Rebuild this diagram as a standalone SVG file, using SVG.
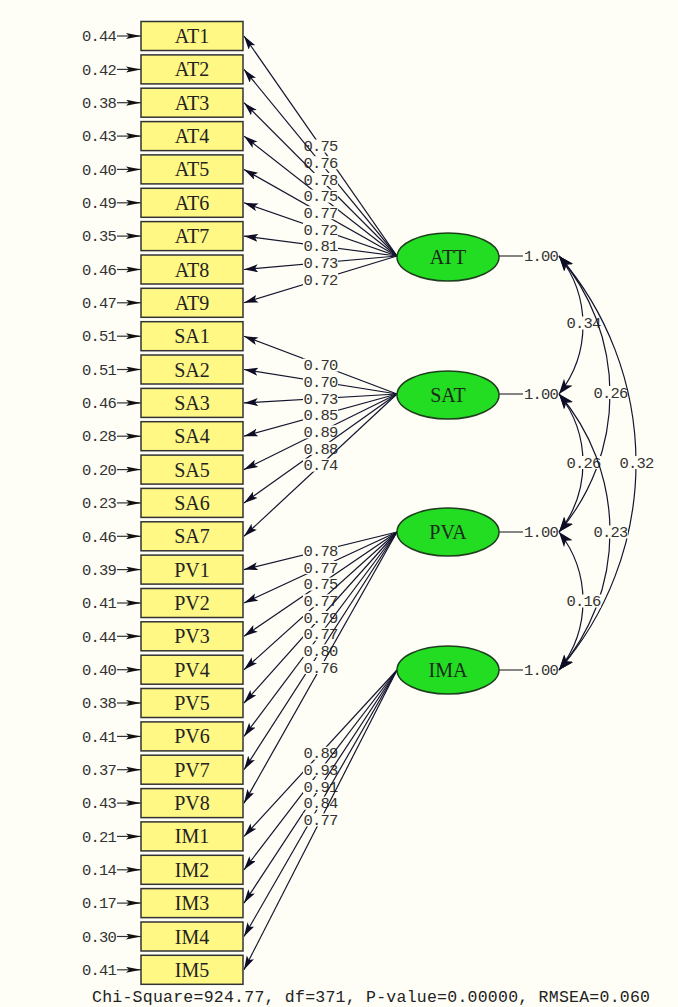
<svg xmlns="http://www.w3.org/2000/svg" width="678" height="1007" viewBox="0 0 678 1007">
<style>
.bg{fill:#FEFEF6}
.box{fill:#FFF884;stroke:#333;stroke-width:1.5}
.bt{font-family:"Liberation Serif",serif;font-size:20px;fill:#222;text-anchor:middle}
.lat{fill:#22DD22;stroke:#1f3f1f;stroke-width:1.5}
.lt{font-family:"Liberation Serif",serif;font-size:20px;fill:#1a2a1a;text-anchor:middle}
.num{font-family:"Liberation Mono",monospace;font-size:15.5px;letter-spacing:-0.8px;fill:#333}
.mid{text-anchor:middle}
.end{text-anchor:end}
.ln{stroke:#14142e;stroke-width:1.2;fill:none}
.el{stroke:#333;stroke-width:1.2;fill:none}
.cv{stroke:#14142e;stroke-width:1.2;fill:none}
.lb{fill:#FEFEF6}
</style>
<defs>
<marker id="ah" markerUnits="userSpaceOnUse" markerWidth="16" markerHeight="10" refX="14" refY="4" orient="auto"><path d="M0,0 L14,4 L0,8 L3,4 z" fill="#0d0d26"/></marker>
<marker id="eh" markerUnits="userSpaceOnUse" markerWidth="16" markerHeight="8" refX="15" refY="3" orient="auto"><path d="M0,0 L15,3 L0,6 L3,3 z" fill="#111"/></marker>
<marker id="ch" markerUnits="userSpaceOnUse" markerWidth="18" markerHeight="12" refX="15" refY="5.5" orient="auto-start-reverse"><path d="M0,0 L15,5.5 L0,11 L4,5.5 z" fill="#0d0d26"/></marker>
</defs>
<rect class="bg" x="0" y="0" width="678" height="1007"/>

<g id="connectors">
<g id="errors">
<line class="el" x1="117" y1="36" x2="141" y2="36" marker-end="url(#eh)"/><text class="num end" x="116" y="41.2">0.44</text>
<line class="el" x1="117" y1="69.4" x2="141" y2="69.4" marker-end="url(#eh)"/><text class="num end" x="116" y="74.6">0.42</text>
<line class="el" x1="117" y1="102.7" x2="141" y2="102.7" marker-end="url(#eh)"/><text class="num end" x="116" y="107.9">0.38</text>
<line class="el" x1="117" y1="136.1" x2="141" y2="136.1" marker-end="url(#eh)"/><text class="num end" x="116" y="141.3">0.43</text>
<line class="el" x1="117" y1="169.4" x2="141" y2="169.4" marker-end="url(#eh)"/><text class="num end" x="116" y="174.6">0.40</text>
<line class="el" x1="117" y1="202.8" x2="141" y2="202.8" marker-end="url(#eh)"/><text class="num end" x="116" y="208">0.49</text>
<line class="el" x1="117" y1="236.1" x2="141" y2="236.1" marker-end="url(#eh)"/><text class="num end" x="116" y="241.3">0.35</text>
<line class="el" x1="117" y1="269.5" x2="141" y2="269.5" marker-end="url(#eh)"/><text class="num end" x="116" y="274.7">0.46</text>
<line class="el" x1="117" y1="302.8" x2="141" y2="302.8" marker-end="url(#eh)"/><text class="num end" x="116" y="308">0.47</text>
<line class="el" x1="117" y1="336.2" x2="141" y2="336.2" marker-end="url(#eh)"/><text class="num end" x="116" y="341.4">0.51</text>
<line class="el" x1="117" y1="369.5" x2="141" y2="369.5" marker-end="url(#eh)"/><text class="num end" x="116" y="374.7">0.51</text>
<line class="el" x1="117" y1="402.9" x2="141" y2="402.9" marker-end="url(#eh)"/><text class="num end" x="116" y="408.1">0.46</text>
<line class="el" x1="117" y1="436.2" x2="141" y2="436.2" marker-end="url(#eh)"/><text class="num end" x="116" y="441.4">0.28</text>
<line class="el" x1="117" y1="469.6" x2="141" y2="469.6" marker-end="url(#eh)"/><text class="num end" x="116" y="474.8">0.20</text>
<line class="el" x1="117" y1="502.9" x2="141" y2="502.9" marker-end="url(#eh)"/><text class="num end" x="116" y="508.1">0.23</text>
<line class="el" x1="117" y1="536.3" x2="141" y2="536.3" marker-end="url(#eh)"/><text class="num end" x="116" y="541.5">0.46</text>
<line class="el" x1="117" y1="569.6" x2="141" y2="569.6" marker-end="url(#eh)"/><text class="num end" x="116" y="574.8">0.39</text>
<line class="el" x1="117" y1="603" x2="141" y2="603" marker-end="url(#eh)"/><text class="num end" x="116" y="608.2">0.41</text>
<line class="el" x1="117" y1="636.3" x2="141" y2="636.3" marker-end="url(#eh)"/><text class="num end" x="116" y="641.5">0.44</text>
<line class="el" x1="117" y1="669.7" x2="141" y2="669.7" marker-end="url(#eh)"/><text class="num end" x="116" y="674.9">0.40</text>
<line class="el" x1="117" y1="703" x2="141" y2="703" marker-end="url(#eh)"/><text class="num end" x="116" y="708.2">0.38</text>
<line class="el" x1="117" y1="736.4" x2="141" y2="736.4" marker-end="url(#eh)"/><text class="num end" x="116" y="741.6">0.41</text>
<line class="el" x1="117" y1="769.7" x2="141" y2="769.7" marker-end="url(#eh)"/><text class="num end" x="116" y="774.9">0.37</text>
<line class="el" x1="117" y1="803.1" x2="141" y2="803.1" marker-end="url(#eh)"/><text class="num end" x="116" y="808.3">0.43</text>
<line class="el" x1="117" y1="836.4" x2="141" y2="836.4" marker-end="url(#eh)"/><text class="num end" x="116" y="841.6">0.21</text>
<line class="el" x1="117" y1="869.8" x2="141" y2="869.8" marker-end="url(#eh)"/><text class="num end" x="116" y="875">0.14</text>
<line class="el" x1="117" y1="903.1" x2="141" y2="903.1" marker-end="url(#eh)"/><text class="num end" x="116" y="908.3">0.17</text>
<line class="el" x1="117" y1="936.5" x2="141" y2="936.5" marker-end="url(#eh)"/><text class="num end" x="116" y="941.7">0.30</text>
<line class="el" x1="117" y1="969.8" x2="141" y2="969.8" marker-end="url(#eh)"/><text class="num end" x="116" y="975">0.41</text>
</g>
<g id="att-loadings">
<line class="ln" x1="397" y1="256" x2="244" y2="36" marker-end="url(#ah)"/><rect class="lb" x="303" y="139.5" width="35" height="13"/><text class="num mid" x="320.5" y="151.2">0.75</text>
<line class="ln" x1="397" y1="256" x2="244" y2="69.4" marker-end="url(#ah)"/><rect class="lb" x="303" y="156.2" width="35" height="13"/><text class="num mid" x="320.5" y="167.9">0.76</text>
<line class="ln" x1="397" y1="256" x2="244" y2="102.7" marker-end="url(#ah)"/><rect class="lb" x="303" y="172.9" width="35" height="13"/><text class="num mid" x="320.5" y="184.6">0.78</text>
<line class="ln" x1="397" y1="256" x2="244" y2="136.1" marker-end="url(#ah)"/><rect class="lb" x="303" y="189.6" width="35" height="13"/><text class="num mid" x="320.5" y="201.3">0.75</text>
<line class="ln" x1="397" y1="256" x2="244" y2="169.4" marker-end="url(#ah)"/><rect class="lb" x="303" y="206.2" width="35" height="13"/><text class="num mid" x="320.5" y="217.9">0.77</text>
<line class="ln" x1="397" y1="256" x2="244" y2="202.8" marker-end="url(#ah)"/><rect class="lb" x="303" y="222.9" width="35" height="13"/><text class="num mid" x="320.5" y="234.6">0.72</text>
<line class="ln" x1="397" y1="256" x2="244" y2="236.1" marker-end="url(#ah)"/><rect class="lb" x="303" y="239.6" width="35" height="13"/><text class="num mid" x="320.5" y="251.3">0.81</text>
<line class="ln" x1="397" y1="256" x2="244" y2="269.5" marker-end="url(#ah)"/><rect class="lb" x="303" y="256.2" width="35" height="13"/><text class="num mid" x="320.5" y="267.9">0.73</text>
<line class="ln" x1="397" y1="256" x2="244" y2="302.8" marker-end="url(#ah)"/><rect class="lb" x="303" y="272.9" width="35" height="13"/><text class="num mid" x="320.5" y="284.6">0.72</text>
</g>
<g id="sat-loadings">
<line class="ln" x1="397" y1="394" x2="244" y2="336.2" marker-end="url(#ah)"/><rect class="lb" x="303" y="358.6" width="35" height="13"/><text class="num mid" x="320.5" y="370.3">0.70</text>
<line class="ln" x1="397" y1="394" x2="244" y2="369.5" marker-end="url(#ah)"/><rect class="lb" x="303" y="375.2" width="35" height="13"/><text class="num mid" x="320.5" y="386.9">0.70</text>
<line class="ln" x1="397" y1="394" x2="244" y2="402.9" marker-end="url(#ah)"/><rect class="lb" x="303" y="391.9" width="35" height="13"/><text class="num mid" x="320.5" y="403.6">0.73</text>
<line class="ln" x1="397" y1="394" x2="244" y2="436.2" marker-end="url(#ah)"/><rect class="lb" x="303" y="408.6" width="35" height="13"/><text class="num mid" x="320.5" y="420.3">0.85</text>
<line class="ln" x1="397" y1="394" x2="244" y2="469.6" marker-end="url(#ah)"/><rect class="lb" x="303" y="425.3" width="35" height="13"/><text class="num mid" x="320.5" y="437">0.89</text>
<line class="ln" x1="397" y1="394" x2="244" y2="502.9" marker-end="url(#ah)"/><rect class="lb" x="303" y="441.9" width="35" height="13"/><text class="num mid" x="320.5" y="453.6">0.88</text>
<line class="ln" x1="397" y1="394" x2="244" y2="536.3" marker-end="url(#ah)"/><rect class="lb" x="303" y="458.6" width="35" height="13"/><text class="num mid" x="320.5" y="470.3">0.74</text>
</g>
<g id="pva-loadings">
<line class="ln" x1="397" y1="532" x2="244" y2="569.6" marker-end="url(#ah)"/><rect class="lb" x="303" y="544.3" width="35" height="13"/><text class="num mid" x="320.5" y="556">0.78</text>
<line class="ln" x1="397" y1="532" x2="244" y2="603" marker-end="url(#ah)"/><rect class="lb" x="303" y="561" width="35" height="13"/><text class="num mid" x="320.5" y="572.7">0.77</text>
<line class="ln" x1="397" y1="532" x2="244" y2="636.3" marker-end="url(#ah)"/><rect class="lb" x="303" y="577.6" width="35" height="13"/><text class="num mid" x="320.5" y="589.3">0.75</text>
<line class="ln" x1="397" y1="532" x2="244" y2="669.7" marker-end="url(#ah)"/><rect class="lb" x="303" y="594.3" width="35" height="13"/><text class="num mid" x="320.5" y="606">0.77</text>
<line class="ln" x1="397" y1="532" x2="244" y2="703" marker-end="url(#ah)"/><rect class="lb" x="303" y="611" width="35" height="13"/><text class="num mid" x="320.5" y="622.7">0.79</text>
<line class="ln" x1="397" y1="532" x2="244" y2="736.4" marker-end="url(#ah)"/><rect class="lb" x="303" y="627.7" width="35" height="13"/><text class="num mid" x="320.5" y="639.4">0.77</text>
<line class="ln" x1="397" y1="532" x2="244" y2="769.7" marker-end="url(#ah)"/><rect class="lb" x="303" y="644.3" width="35" height="13"/><text class="num mid" x="320.5" y="656">0.80</text>
<line class="ln" x1="397" y1="532" x2="244" y2="803.1" marker-end="url(#ah)"/><rect class="lb" x="303" y="661" width="35" height="13"/><text class="num mid" x="320.5" y="672.7">0.76</text>
</g>
<g id="ima-loadings">
<line class="ln" x1="397" y1="670" x2="244" y2="836.4" marker-end="url(#ah)"/><rect class="lb" x="303" y="746.7" width="35" height="13"/><text class="num mid" x="320.5" y="758.4">0.89</text>
<line class="ln" x1="397" y1="670" x2="244" y2="869.8" marker-end="url(#ah)"/><rect class="lb" x="303" y="763.4" width="35" height="13"/><text class="num mid" x="320.5" y="775.1">0.93</text>
<line class="ln" x1="397" y1="670" x2="244" y2="903.1" marker-end="url(#ah)"/><rect class="lb" x="303" y="780" width="35" height="13"/><text class="num mid" x="320.5" y="791.7">0.91</text>
<line class="ln" x1="397" y1="670" x2="244" y2="936.5" marker-end="url(#ah)"/><rect class="lb" x="303" y="796.7" width="35" height="13"/><text class="num mid" x="320.5" y="808.4">0.84</text>
<line class="ln" x1="397" y1="670" x2="244" y2="969.8" marker-end="url(#ah)"/><rect class="lb" x="303" y="813.4" width="35" height="13"/><text class="num mid" x="320.5" y="825.1">0.77</text>
</g>
<g id="variances">
<line class="el" x1="499" y1="256" x2="523" y2="256"/><text class="num" x="524" y="261.2">1.00</text>
<line class="el" x1="499" y1="394" x2="523" y2="394"/><text class="num" x="524" y="399.2">1.00</text>
<line class="el" x1="499" y1="532" x2="523" y2="532"/><text class="num" x="524" y="537.2">1.00</text>
<line class="el" x1="499" y1="670" x2="523" y2="670"/><text class="num" x="524" y="675.2">1.00</text>
</g>
<g id="covariances">
<path class="cv" d="M559,256 A111.2,111.2 0 0 1 559,394" marker-start="url(#ch)" marker-end="url(#ch)"/><rect class="lb" x="566" y="316.5" width="35" height="13"/><text class="num mid" x="583.5" y="328.2">0.34</text>
<path class="cv" d="M559,256 A212.2,212.2 0 0 1 559,532" marker-start="url(#ch)" marker-end="url(#ch)"/><rect class="lb" x="593" y="386" width="35" height="13"/><text class="num mid" x="610.5" y="397.7">0.26</text>
<path class="cv" d="M559,256 A316.7,316.7 0 0 1 559,670" marker-start="url(#ch)" marker-end="url(#ch)"/><rect class="lb" x="619" y="456" width="35" height="13"/><text class="num mid" x="636.5" y="467.7">0.32</text>
<path class="cv" d="M559,394 A111.2,111.2 0 0 1 559,532" marker-start="url(#ch)" marker-end="url(#ch)"/><rect class="lb" x="566" y="456" width="35" height="13"/><text class="num mid" x="583.5" y="467.7">0.26</text>
<path class="cv" d="M559,394 A212.2,212.2 0 0 1 559,670" marker-start="url(#ch)" marker-end="url(#ch)"/><rect class="lb" x="593" y="525.5" width="35" height="13"/><text class="num mid" x="610.5" y="537.2">0.23</text>
<path class="cv" d="M559,532 A111.2,111.2 0 0 1 559,670" marker-start="url(#ch)" marker-end="url(#ch)"/><rect class="lb" x="566" y="594.5" width="35" height="13"/><text class="num mid" x="583.5" y="606.2">0.16</text>
</g>
</g>

<g id="AT1"><rect class="box" x="141" y="21.5" width="102" height="29"/><text class="bt" x="192" y="43">AT1</text></g>
<g id="AT2"><rect class="box" x="141" y="54.9" width="102" height="29"/><text class="bt" x="192" y="76.4">AT2</text></g>
<g id="AT3"><rect class="box" x="141" y="88.2" width="102" height="29"/><text class="bt" x="192" y="109.7">AT3</text></g>
<g id="AT4"><rect class="box" x="141" y="121.6" width="102" height="29"/><text class="bt" x="192" y="143.1">AT4</text></g>
<g id="AT5"><rect class="box" x="141" y="154.9" width="102" height="29"/><text class="bt" x="192" y="176.4">AT5</text></g>
<g id="AT6"><rect class="box" x="141" y="188.3" width="102" height="29"/><text class="bt" x="192" y="209.8">AT6</text></g>
<g id="AT7"><rect class="box" x="141" y="221.6" width="102" height="29"/><text class="bt" x="192" y="243.1">AT7</text></g>
<g id="AT8"><rect class="box" x="141" y="255" width="102" height="29"/><text class="bt" x="192" y="276.5">AT8</text></g>
<g id="AT9"><rect class="box" x="141" y="288.3" width="102" height="29"/><text class="bt" x="192" y="309.8">AT9</text></g>
<g id="SA1"><rect class="box" x="141" y="321.7" width="102" height="29"/><text class="bt" x="192" y="343.2">SA1</text></g>
<g id="SA2"><rect class="box" x="141" y="355" width="102" height="29"/><text class="bt" x="192" y="376.5">SA2</text></g>
<g id="SA3"><rect class="box" x="141" y="388.4" width="102" height="29"/><text class="bt" x="192" y="409.9">SA3</text></g>
<g id="SA4"><rect class="box" x="141" y="421.7" width="102" height="29"/><text class="bt" x="192" y="443.2">SA4</text></g>
<g id="SA5"><rect class="box" x="141" y="455.1" width="102" height="29"/><text class="bt" x="192" y="476.6">SA5</text></g>
<g id="SA6"><rect class="box" x="141" y="488.4" width="102" height="29"/><text class="bt" x="192" y="509.9">SA6</text></g>
<g id="SA7"><rect class="box" x="141" y="521.8" width="102" height="29"/><text class="bt" x="192" y="543.3">SA7</text></g>
<g id="PV1"><rect class="box" x="141" y="555.1" width="102" height="29"/><text class="bt" x="192" y="576.6">PV1</text></g>
<g id="PV2"><rect class="box" x="141" y="588.5" width="102" height="29"/><text class="bt" x="192" y="610">PV2</text></g>
<g id="PV3"><rect class="box" x="141" y="621.8" width="102" height="29"/><text class="bt" x="192" y="643.3">PV3</text></g>
<g id="PV4"><rect class="box" x="141" y="655.2" width="102" height="29"/><text class="bt" x="192" y="676.7">PV4</text></g>
<g id="PV5"><rect class="box" x="141" y="688.5" width="102" height="29"/><text class="bt" x="192" y="710">PV5</text></g>
<g id="PV6"><rect class="box" x="141" y="721.9" width="102" height="29"/><text class="bt" x="192" y="743.4">PV6</text></g>
<g id="PV7"><rect class="box" x="141" y="755.2" width="102" height="29"/><text class="bt" x="192" y="776.7">PV7</text></g>
<g id="PV8"><rect class="box" x="141" y="788.6" width="102" height="29"/><text class="bt" x="192" y="810.1">PV8</text></g>
<g id="IM1"><rect class="box" x="141" y="821.9" width="102" height="29"/><text class="bt" x="192" y="843.4">IM1</text></g>
<g id="IM2"><rect class="box" x="141" y="855.3" width="102" height="29"/><text class="bt" x="192" y="876.8">IM2</text></g>
<g id="IM3"><rect class="box" x="141" y="888.6" width="102" height="29"/><text class="bt" x="192" y="910.1">IM3</text></g>
<g id="IM4"><rect class="box" x="141" y="922" width="102" height="29"/><text class="bt" x="192" y="943.5">IM4</text></g>
<g id="IM5"><rect class="box" x="141" y="955.3" width="102" height="29"/><text class="bt" x="192" y="976.8">IM5</text></g>

<g id="ATT"><ellipse class="lat" cx="448" cy="257" rx="51" ry="24"/><text class="lt" x="448" y="264">ATT</text></g>
<g id="SAT"><ellipse class="lat" cx="448" cy="395" rx="51" ry="24"/><text class="lt" x="448" y="402">SAT</text></g>
<g id="PVA"><ellipse class="lat" cx="448" cy="532" rx="51" ry="24"/><text class="lt" x="448" y="539">PVA</text></g>
<g id="IMA"><ellipse class="lat" cx="448" cy="670" rx="51" ry="24"/><text class="lt" x="448" y="677">IMA</text></g>

<text x="92" y="1002" font-family="Liberation Mono, monospace" font-size="16.5" fill="#222" textLength="558" lengthAdjust="spacing">Chi-Square=924.77, df=371, P-value=0.00000, RMSEA=0.060</text>
</svg>
